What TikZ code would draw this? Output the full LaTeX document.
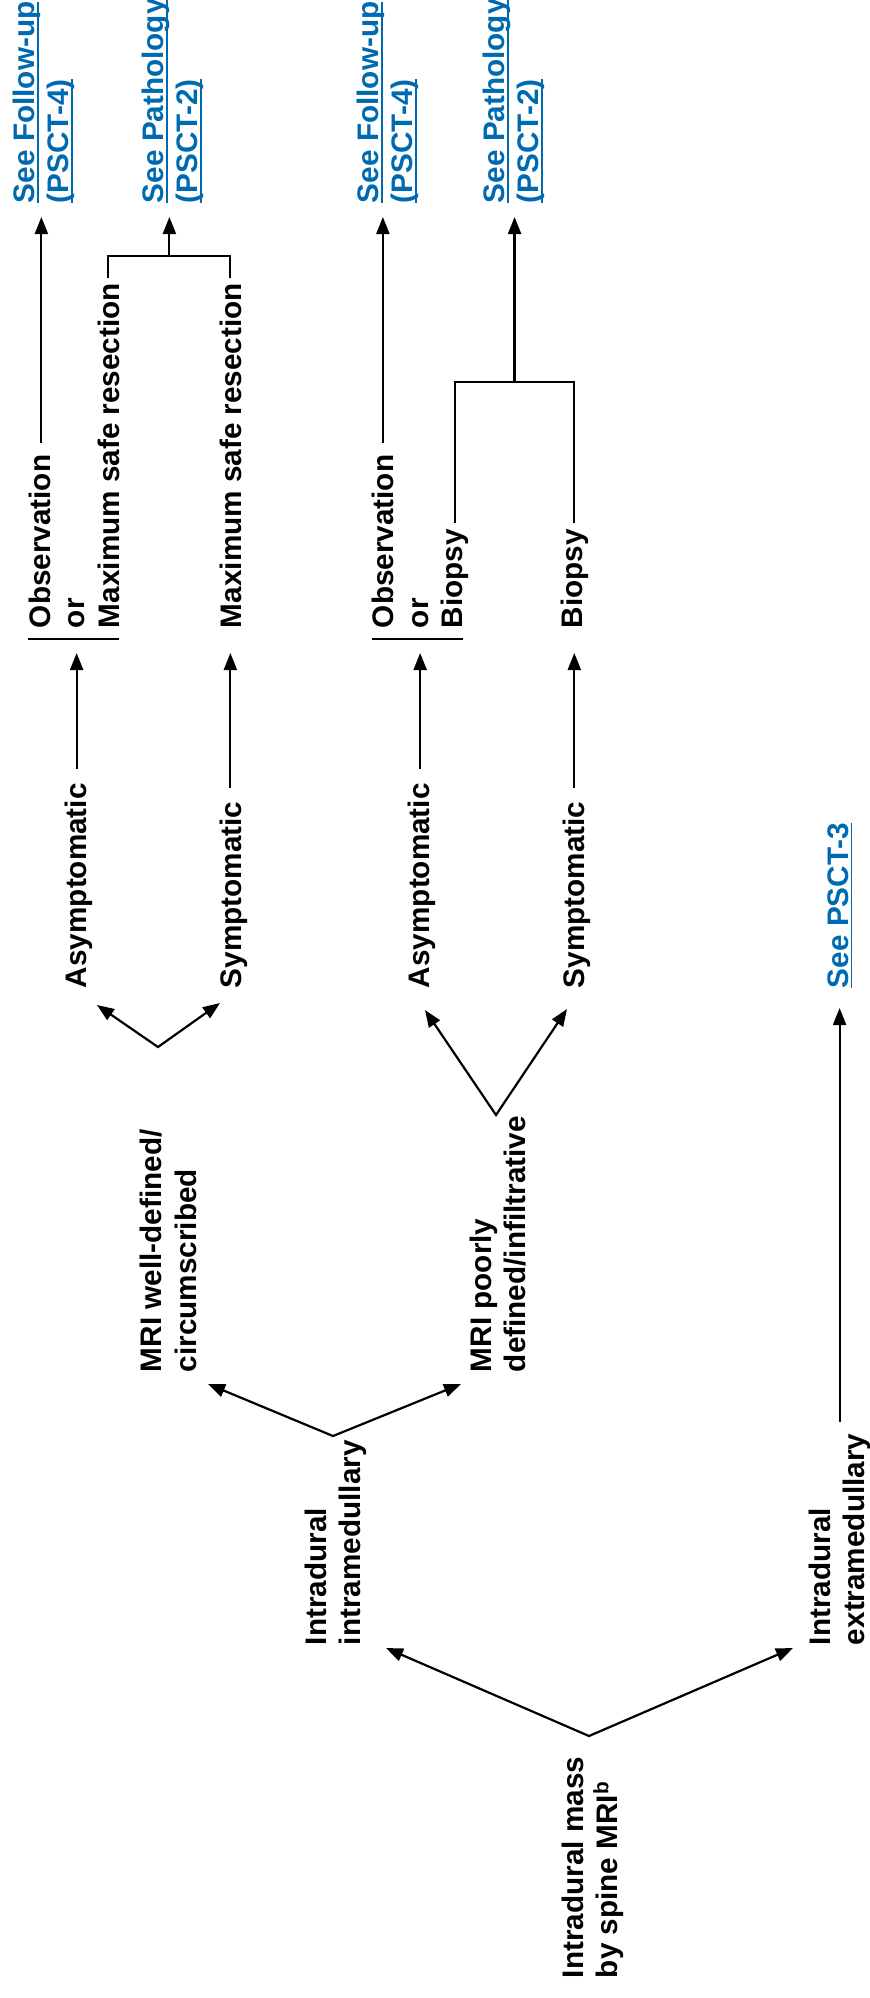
\documentclass[tikz,border=0pt]{standalone}
\usepackage{fontspec}
\setmainfont{Liberation Sans}
\usetikzlibrary{arrows.meta,calc}
\definecolor{linkblue}{RGB}{0,106,176}
\newcommand{\txtfont}{\fontsize{29.7pt}{34.5pt}\selectfont\bfseries}
\newcommand{\ulink}[1]{\setbox0=\hbox{#1}\rlap{\rule[-4.3pt]{\wd0}{1.8pt}}\box0}
\begin{document}
\begin{tikzpicture}[x=1pt,y=1pt,
  one/.style={rotate=90, inner sep=0pt, outer sep=0pt, font=\txtfont, anchor=base west},
  multi/.style={rotate=90, inner sep=0pt, outer sep=0pt, font=\txtfont, align=left, anchor=north west},
  lnk/.style={text=linkblue},
  ln/.style={line width=2.2pt, draw=black},
  arr/.style={ln, -{Triangle[length=17pt,width=13pt]}},
  twoarr/.style={ln, {Triangle[length=17pt,width=13pt]}-{Triangle[length=17pt,width=13pt]}},
  barline/.style={line width=2.6pt, draw=black}]
\useasboundingbox (0,0) rectangle (870,-1998);

% link targets
\node[multi,lnk] (fuA) at (12.8,-203) {\ulink{See Follow-up}\\\ulink{(PSCT-4)}};
\node[multi,lnk] (paB) at (141.8,-203) {\ulink{See Pathology}\\\ulink{(PSCT-2)}};
\node[multi,lnk] (fuC) at (356.8,-203) {\ulink{See Follow-up}\\\ulink{(PSCT-4)}};
\node[multi,lnk] (paD) at (482.8,-203) {\ulink{See Pathology}\\\ulink{(PSCT-2)}};

% treatment blocks
\node[one] (obs1) at (50,-628) {Observation};
\node[one] (or1) at (84.5,-628) {or};
\node[one] (msr1) at (119,-628) {Maximum safe resection};
\node[one] (msr2) at (241,-628) {Maximum safe resection};
\node[one] (obs3) at (393.5,-628) {Observation};
\node[one] (or3) at (428,-628) {or};
\node[one] (bio3) at (462.5,-628) {Biopsy};
\node[one] (bio4) at (582,-628) {Biopsy};

% symptom nodes
\node[one] (asy1) at (86,-988) {Asymptomatic};
\node[one] (sym2) at (241.5,-988) {Symptomatic};
\node[one] (asy3) at (429,-988) {Asymptomatic};
\node[one] (sym4) at (584,-988) {Symptomatic};
\node[one,lnk] (psct3) at (848,-988) {\ulink{See PSCT-3}};

% MRI nodes
\node[multi] (mriw) at (140,-1372) {MRI well-defined/\\circumscribed};
\node[multi] (mrip) at (469.5,-1372) {MRI poorly\\defined/infiltrative};

% location nodes
\node[multi] (intra) at (304.5,-1645) {Intradural\\intramedullary};
\node[multi] (extra) at (808.5,-1645) {Intradural\\extramedullary};
\node[multi] (mass) at (561.5,-1978) {Intradural mass\\by spine MRI\textsuperscript{b}};

% arrows to follow-up
\draw[arr] ($(obs1.east)+(2,12)$) -- ($(obs1.east |- fuA.west)+(2,-14)$);
\draw[arr] ($(obs3.east)+(0,12)$) -- ($(obs3.east |- fuC.west)+(0,-14)$);

% brackets to pathology
\draw[ln] ($(msr1.east)+(0,5)$) -- ++(0,22) -| ($(msr2.east)+(0,5)$);
\coordinate (b1) at ($(msr1.east)!0.5!(msr2.east)+(0,27)$);
\draw[arr] (b1) -- ($(b1 |- paB.west)+(0,-14)$);
\draw[ln] ($(bio3.east)+(0,6)$) -- ++(0,141) -| ($(bio4.east)+(0,6)$);
\coordinate (b3) at ($(bio3.east)!0.5!(bio4.east)+(0,147)$);
\draw[arr] (b3) -- ($(b3 |- paD.west)+(0,-14)$);

% option bars
\draw[barline] ($(obs1.north west)+(0,-11)$) coordinate (bar1) -- ($(msr1.base west)+(0,-11)$);
\draw[barline] ($(obs3.north west)+(0,-11)$) coordinate (bar3) -- ($(bio3.base west)+(0,-11)$);

% symptom arrows
\draw[arr] ($(asy1.east -| or1.center)+(0,14)$) -- ($(bar1 -| or1.center)+(0,-14)$);
\draw[arr] ($(sym2.east -| msr2.center)+(0,14)$) -- ($(bar1 -| msr2.center)+(0,-14)$);
\draw[arr] ($(asy3.east -| or3.center)+(0,14)$) -- ($(bar3 -| or3.center)+(0,-14)$);
\draw[arr] ($(sym4.east -| bio4.center)+(0,14)$) -- ($(bar3 -| bio4.center)+(0,-14)$);

% V splits
\coordinate (v1) at (158,-1047); \coordinate (v1a) at (97,-1005); \coordinate (v1b) at (220,-1003);
\draw[twoarr] (v1a) -- (v1) -- (v1b);
\coordinate (v2) at (496,-1115); \coordinate (v2a) at (425,-1010); \coordinate (v2b) at (567,-1009);
\draw[twoarr] (v2a) -- (v2) -- (v2b);
\coordinate (v3) at (333,-1436); \coordinate (v3a) at (208,-1384); \coordinate (v3b) at (461,-1384);
\draw[twoarr] (v3a) -- (v3) -- (v3b);
\coordinate (v4) at (589,-1736); \coordinate (v4a) at (386,-1648); \coordinate (v4b) at (793,-1648);
\draw[twoarr] (v4a) -- (v4) -- (v4b);

% extramedullary to PSCT-3
\draw[arr] ($(extra.east)+(0,12)$) -- ($(extra.east |- psct3.west)+(0,-20)$);
\end{tikzpicture}
\end{document}
